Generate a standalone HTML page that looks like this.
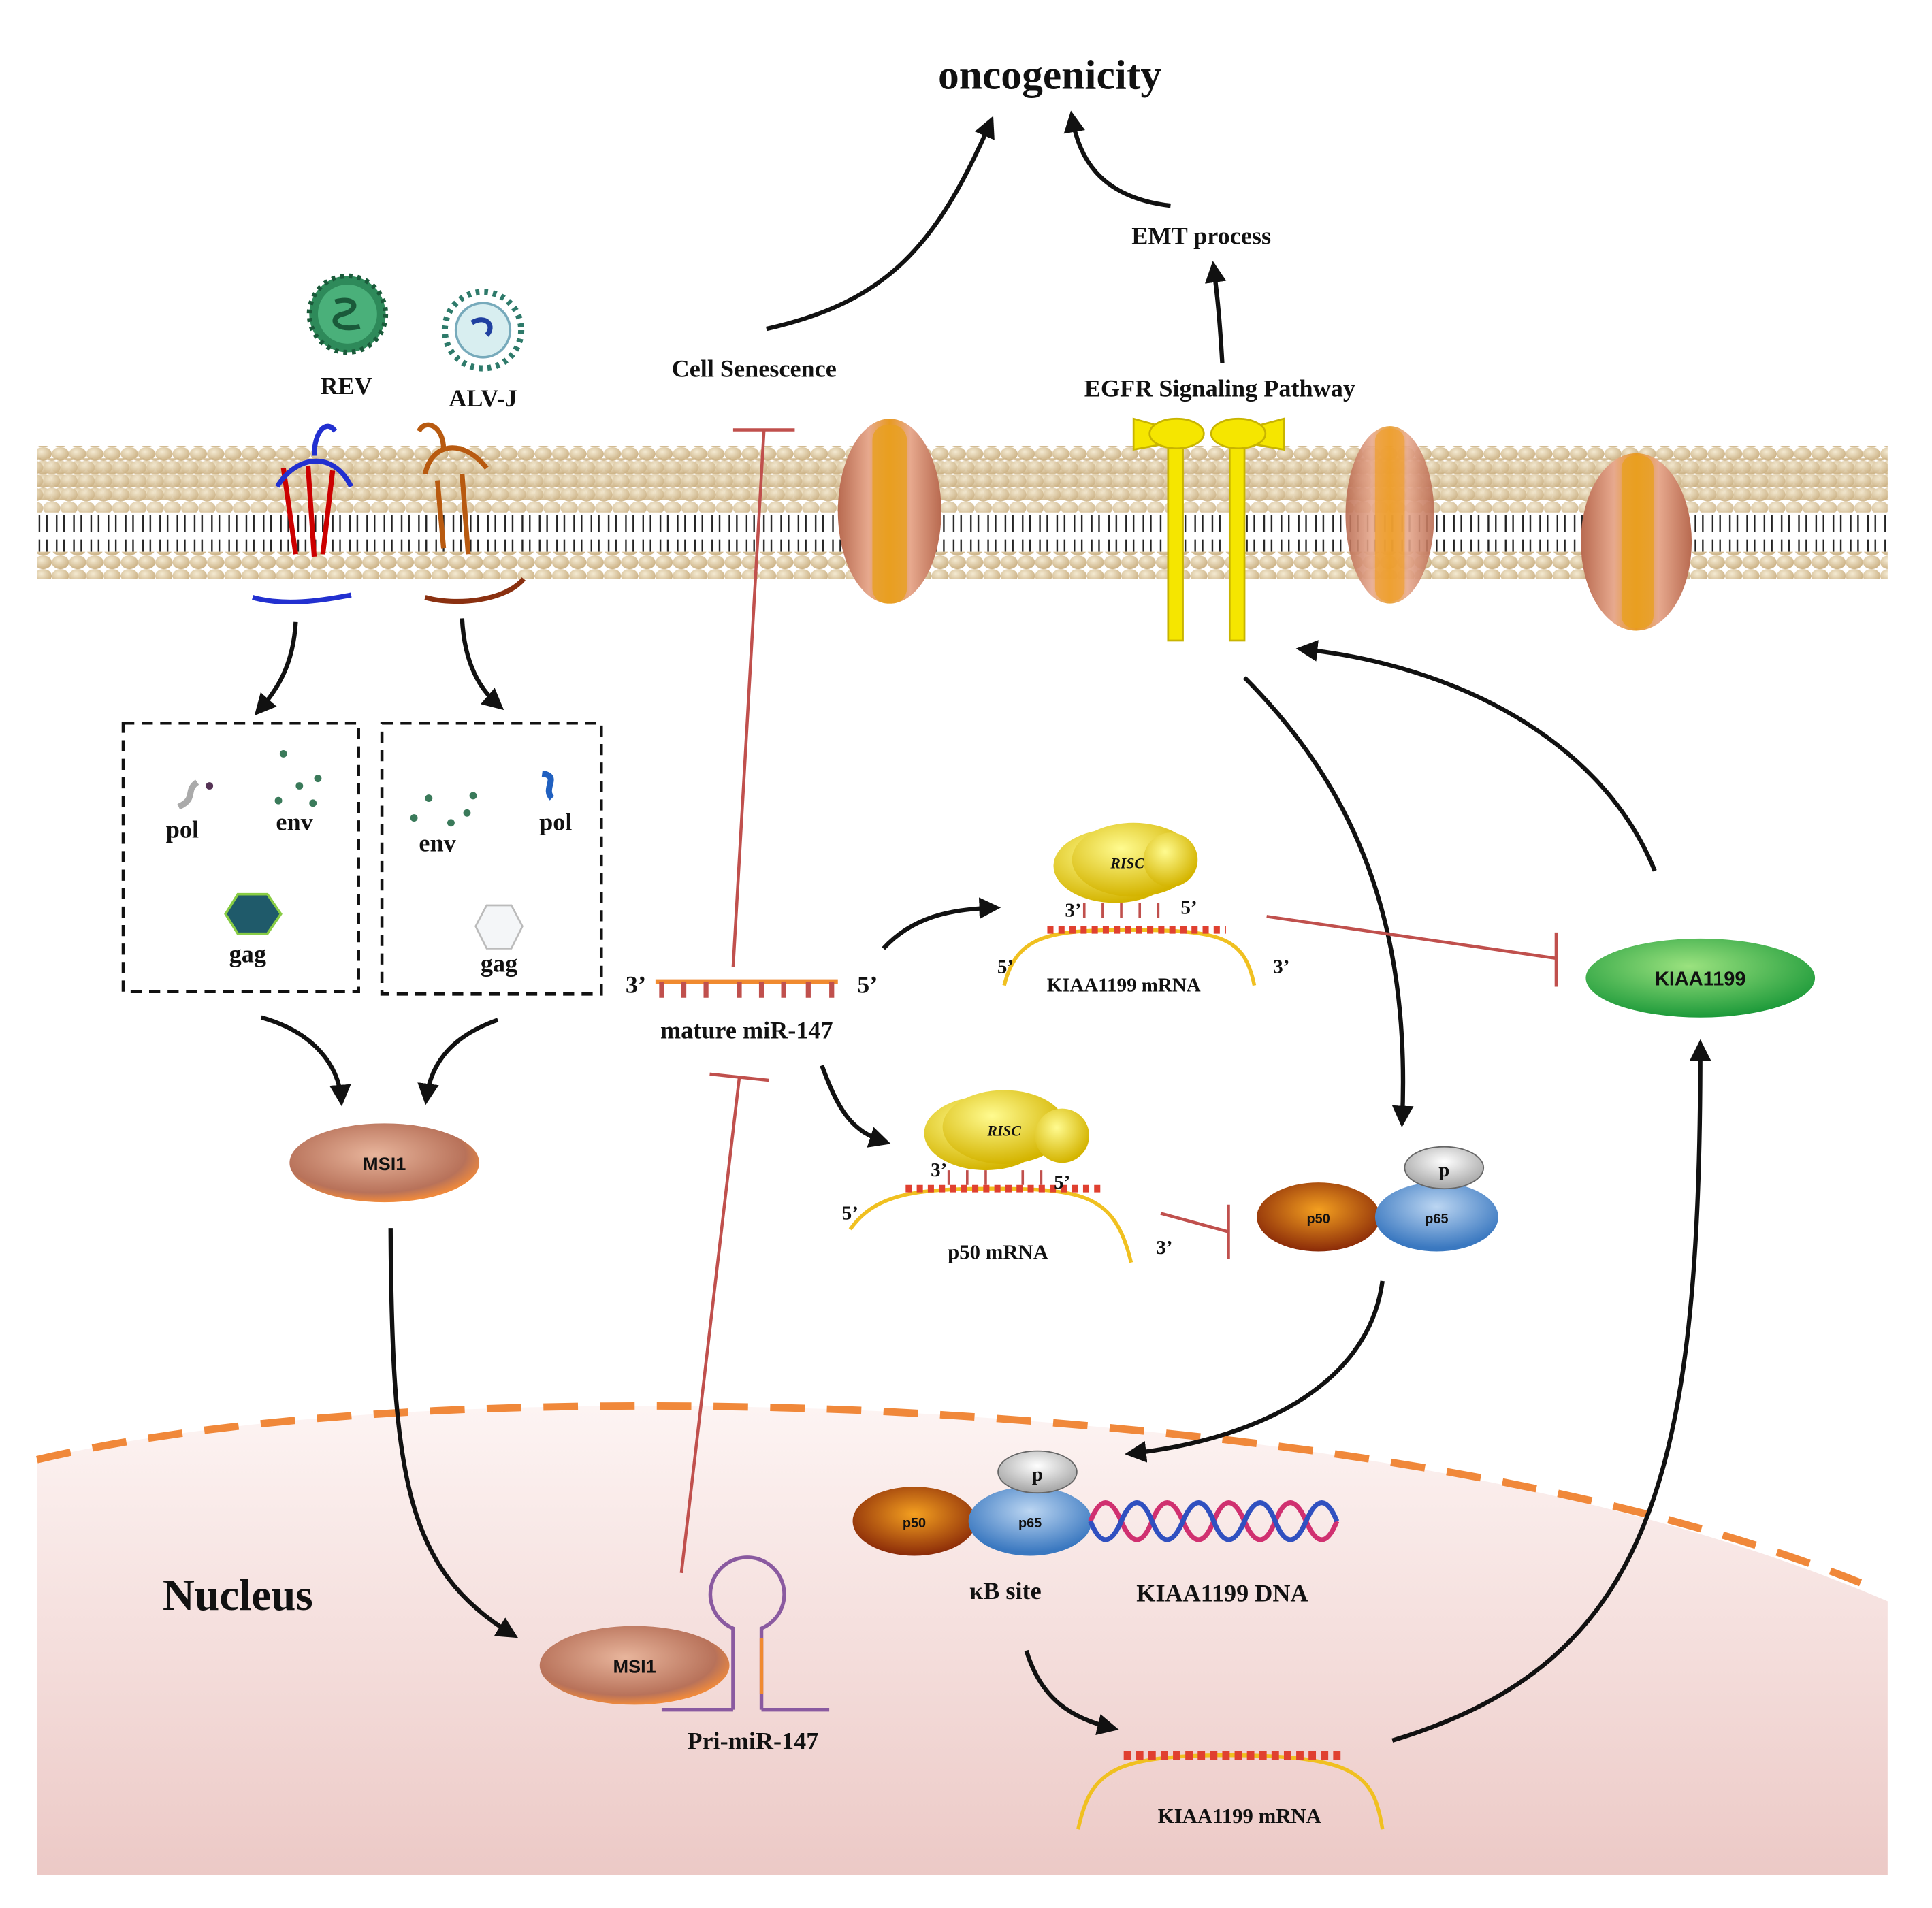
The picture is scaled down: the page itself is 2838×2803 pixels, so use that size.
<!DOCTYPE html>
<html><head><meta charset="utf-8"><style>
html,body{margin:0;padding:0;background:#fff;}
svg{display:block;}
text{font-family:"Liberation Serif",serif;font-weight:bold;fill:#111;}
.s{font-family:"Liberation Sans",sans-serif;}
</style></head><body>
<svg width="2838" height="2803" viewBox="0 0 1568 1549" preserveAspectRatio="none" xmlns="http://www.w3.org/2000/svg">
<defs>
<marker id="ah" viewBox="0 0 10 10" refX="7" refY="5" markerWidth="5" markerHeight="5" orient="auto"><path d="M0,0 L10,5 L0,10 z" fill="#111"/></marker>
<linearGradient id="nuc" x1="0" y1="0" x2="0" y2="1"><stop offset="0" stop-color="#fdf4f3"/><stop offset="1" stop-color="#ecc9c6"/></linearGradient>
<radialGradient id="head" cx="0.4" cy="0.35" r="0.7"><stop offset="0" stop-color="#f4ead2"/><stop offset="1" stop-color="#c9ae80"/></radialGradient>
<pattern id="heads" width="14" height="11" patternUnits="userSpaceOnUse"><ellipse cx="7" cy="5.5" rx="7" ry="5.5" fill="url(#head)"/></pattern>
<pattern id="heads2" width="14" height="11" patternUnits="userSpaceOnUse" x="7"><ellipse cx="7" cy="5.5" rx="7" ry="5.5" fill="url(#head)"/></pattern>
<pattern id="tails" width="14" height="30" patternUnits="userSpaceOnUse"><path d="M4,0 V12 M10,0 V12 M4,18 V30 M10,18 V30" stroke="#222" stroke-width="1.3"/></pattern>
<radialGradient id="msi" cx="0.45" cy="0.4" r="0.6"><stop offset="0" stop-color="#e8b59c"/><stop offset="0.8" stop-color="#b8725a"/><stop offset="1" stop-color="#f08a3c"/></radialGradient>
<radialGradient id="grn" cx="0.45" cy="0.35" r="0.65"><stop offset="0" stop-color="#9be27f"/><stop offset="1" stop-color="#1d9a3a"/></radialGradient>
<radialGradient id="p50" cx="0.5" cy="0.4" r="0.6"><stop offset="0" stop-color="#f4a020"/><stop offset="1" stop-color="#8a2a08"/></radialGradient>
<radialGradient id="p65" cx="0.5" cy="0.35" r="0.6"><stop offset="0" stop-color="#bcd6f2"/><stop offset="1" stop-color="#3a78c0"/></radialGradient>
<radialGradient id="pp" cx="0.5" cy="0.35" r="0.6"><stop offset="0" stop-color="#fff"/><stop offset="1" stop-color="#aaa"/></radialGradient>
<radialGradient id="ylw" cx="0.4" cy="0.35" r="0.65"><stop offset="0" stop-color="#fffb90"/><stop offset="1" stop-color="#d4b400"/></radialGradient>
<linearGradient id="ch" x1="0" x2="1"><stop offset="0" stop-color="#b86a50"/><stop offset="0.3" stop-color="#e7a98e"/><stop offset="0.5" stop-color="#e89a20"/><stop offset="0.7" stop-color="#e7a98e"/><stop offset="1" stop-color="#b86a50"/></linearGradient>
</defs>

<path d="M30,1185 C200,1145 450,1135 700,1145 C1000,1160 1300,1200 1532,1300 L1532,1522 L30,1522 Z" fill="url(#nuc)"/>
<path d="M30,1185 C200,1145 450,1135 700,1145 C1000,1160 1300,1200 1510,1285" fill="none" stroke="#f0883a" stroke-width="6" stroke-dasharray="28,18"/>

<rect x="30" y="362" width="1502" height="44" fill="url(#heads)"/>
<rect x="30" y="372" width="1502" height="44" fill="url(#heads2)" opacity="0.9"/>
<rect x="30" y="418" width="1502" height="30" fill="url(#tails)"/>
<rect x="30" y="448" width="1502" height="22" fill="url(#heads)"/>

<g><ellipse cx="722" cy="415" rx="42" ry="75" fill="url(#ch)"/><rect x="708" y="345" width="28" height="145" rx="12" fill="#e8a020" opacity="0.8"/></g>
<g><ellipse cx="1128" cy="418" rx="36" ry="72" fill="url(#ch)" opacity="0.9"/><rect x="1116" y="348" width="24" height="140" rx="10" fill="#f0a030" opacity="0.7"/></g>
<g><ellipse cx="1328" cy="440" rx="45" ry="72" fill="url(#ch)"/><rect x="1316" y="370" width="26" height="140" rx="10" fill="#e8a020" opacity="0.8"/></g>

<g fill="#f5e600" stroke="#c8b400" stroke-width="1.5">
<rect x="948" y="360" width="12" height="160"/><rect x="998" y="360" width="12" height="160"/>
<path d="M920,340 L975,355 L920,365 Z"/><path d="M1042,340 L985,355 L1042,365 Z"/>
<ellipse cx="955" cy="352" rx="22" ry="12"/><ellipse cx="1005" cy="352" rx="22" ry="12"/>
</g>

<g fill="none" stroke-width="4">
<path d="M230,380 L240,450 M250,378 L255,452 M270,382 L262,450" stroke="#c00"/>
<path d="M225,395 C240,370 270,365 285,395 M255,370 C255,350 265,340 272,350" stroke="#2230d0"/>
<path d="M205,485 C230,492 260,488 285,483" stroke="#2230d0"/>
<path d="M345,385 C350,360 375,355 395,380 M355,390 L360,445 M375,385 L380,450 M340,350 C345,340 360,345 360,365" stroke="#b85a10"/>
<path d="M345,485 C370,492 410,488 425,470" stroke="#8a3010"/>
</g>

<circle cx="282" cy="255" r="31" fill="#2e8a5a" stroke="#1a5a3a" stroke-width="4" stroke-dasharray="3,4"/>
<circle cx="282" cy="255" r="24" fill="#4ab07a"/>
<path d="M272,245 C290,240 292,252 278,255 C266,258 272,270 292,265" stroke="#1a5a3a" stroke-width="4" fill="none"/>
<circle cx="392" cy="268" r="31" fill="#fff" stroke="#2e7a6a" stroke-width="5" stroke-dasharray="3,4"/>
<circle cx="392" cy="268" r="22" fill="#d8eef0" stroke="#7ab" stroke-width="2"/>
<path d="M383,262 C395,255 402,265 395,272" stroke="#2040a0" stroke-width="4" fill="none"/>
<text x="281" y="320" font-size="20" text-anchor="middle">REV</text>
<text x="392" y="330" font-size="20" text-anchor="middle">ALV-J</text>

<g fill="none" stroke="#111" stroke-width="3.5" marker-end="url(#ah)">
<path d="M240,505 C238,540 225,560 210,577"/>
<path d="M375,502 C377,540 390,560 405,573"/>
<path d="M212,826 C255,838 275,865 277,893"/>
<path d="M404,828 C370,840 350,860 346,892"/>
<path d="M317,997 C318,1200 330,1275 416,1327"/>
<path d="M622,267 C720,245 760,200 804,99"/>
<path d="M950,167 C890,160 875,125 870,95"/>
<path d="M992,295 C990,260 988,240 985,217"/>
<path d="M717,770 C740,745 770,738 807,737"/>
<path d="M667,865 C680,900 690,918 718,927"/>
<path d="M1343,707 C1300,600 1180,540 1057,527"/>
<path d="M1010,550 C1100,640 1145,750 1138,910"/>
<path d="M1122,1040 C1110,1130 1010,1170 918,1180"/>
<path d="M833,1340 C845,1380 870,1395 903,1403"/>
<path d="M1130,1413 C1340,1350 1380,1200 1380,849"/>
</g>

<rect x="100" y="587" width="191" height="218" fill="none" stroke="#111" stroke-width="2.5" stroke-dasharray="9,6"/>
<rect x="310" y="587" width="178" height="220" fill="none" stroke="#111" stroke-width="2.5" stroke-dasharray="9,6"/>
<path d="M145,655 C160,648 150,642 160,635" stroke="#aaa" stroke-width="5" fill="none"/><circle cx="170" cy="638" r="3" fill="#535"/>
<g fill="#3a7a5a"><circle cx="230" cy="612" r="3"/><circle cx="243" cy="638" r="3"/><circle cx="226" cy="650" r="3"/><circle cx="258" cy="632" r="3"/><circle cx="254" cy="652" r="3"/><circle cx="348" cy="648" r="3"/><circle cx="336" cy="664" r="3"/><circle cx="366" cy="668" r="3"/><circle cx="384" cy="646" r="3"/><circle cx="379" cy="660" r="3"/></g>
<path d="M440,628 C455,630 440,640 448,648" stroke="#2060c0" stroke-width="5" fill="none"/>
<polygon points="193,726 217,726 228,742 217,758 193,758 183,742" fill="#1f5a6a" stroke="#8c4" stroke-width="2"/>
<polygon points="395,735 415,735 424,752 415,770 395,770 386,752" fill="#f4f6f8" stroke="#bbb" stroke-width="1.5"/>
<g font-size="20" text-anchor="middle"><text x="148" y="680">pol</text><text x="239" y="674">env</text><text x="201" y="781">gag</text><text x="355" y="691">env</text><text x="451" y="674">pol</text><text x="405" y="789">gag</text></g>

<ellipse cx="312" cy="944" rx="77" ry="32" fill="url(#msi)"/>
<text class="s" x="312" y="950" font-size="15" text-anchor="middle">MSI1</text>
<ellipse cx="515" cy="1352" rx="77" ry="32" fill="url(#msi)"/>
<text class="s" x="515" y="1358" font-size="15" text-anchor="middle">MSI1</text>
<text x="193" y="1307" font-size="36" text-anchor="middle">Nucleus</text>

<g fill="none" stroke="#8a5aa0" stroke-width="3">
<path d="M595,1388 L595,1322 A30,30 0 1 1 618,1322 L618,1388"/>
<path d="M537,1388 L595,1388 M618,1388 L673,1388"/>
</g>
<path d="M618,1330 V1375" stroke="#f08a30" stroke-width="3"/>
<text x="611" y="1420" font-size="20" text-anchor="middle">Pri-miR-147</text>

<g stroke="#c0504d" stroke-width="2.5" fill="none">
<path d="M595,785 L620,350 M595,349 L645,349"/>
<path d="M553,1277 L600,875 M576,872 L624,877"/>
<path d="M1028,744 L1263,778 M1263,757 L1263,801"/>
<path d="M942,985 L997,1000 M997,978 L997,1022"/>
</g>

<path d="M532,797 L680,797" stroke="#f08a30" stroke-width="4"/>
<g stroke="#c0504d" stroke-width="4"><path d="M537,797V810M555,797V810M573,797V810M600,797V810M618,797V810M636,797V810M656,797V810M675,797V810"/></g>
<text x="516" y="806" font-size="20" text-anchor="middle">3’</text>
<text x="704" y="806" font-size="20" text-anchor="middle">5’</text>
<text x="606" y="843" font-size="20" text-anchor="middle">mature miR-147</text>

<ellipse cx="905" cy="703" rx="50" ry="30" fill="url(#ylw)"/>
<ellipse cx="920" cy="698" rx="50" ry="30" fill="url(#ylw)"/>
<circle cx="950" cy="698" r="22" fill="url(#ylw)"/>
<text x="915" y="705" font-size="12" text-anchor="middle" font-style="italic">RISC</text>
<g stroke="#c0504d" stroke-width="2"><path d="M880,733V745M895,733V745M910,733V745M925,733V745M940,733V745"/></g>
<path d="M815,800 C825,760 850,755 915,755 C990,755 1010,760 1018,800" fill="none" stroke="#f0c020" stroke-width="3"/>
<path d="M850,755 H995" stroke="#e04030" stroke-width="6" stroke-dasharray="5,4"/>
<text x="871" y="744" font-size="16" text-anchor="middle">3’</text><text x="965" y="742" font-size="16" text-anchor="middle">5’</text>
<text x="816" y="790" font-size="16" text-anchor="middle">5’</text><text x="1040" y="790" font-size="16" text-anchor="middle">3’</text>
<text x="912" y="805" font-size="16" text-anchor="middle">KIAA1199 mRNA</text>

<ellipse cx="1380" cy="794" rx="93" ry="32" fill="url(#grn)"/>
<text class="s" x="1380" y="800" font-size="16" text-anchor="middle">KIAA1199</text>

<ellipse cx="800" cy="920" rx="50" ry="30" fill="url(#ylw)"/>
<ellipse cx="815" cy="915" rx="50" ry="30" fill="url(#ylw)"/>
<circle cx="862" cy="922" r="22" fill="url(#ylw)"/>
<text x="815" y="922" font-size="12" text-anchor="middle" font-style="italic">RISC</text>
<g stroke="#c0504d" stroke-width="2"><path d="M770,950V962M785,950V962M800,950V962M830,950V962M845,950V962"/></g>
<path d="M690,998 C710,970 740,965 805,965 C880,965 905,970 918,1025" fill="none" stroke="#f0c020" stroke-width="3"/>
<path d="M735,965 H895" stroke="#e04030" stroke-width="6" stroke-dasharray="5,4"/>
<text x="762" y="955" font-size="16" text-anchor="middle">3’</text><text x="862" y="965" font-size="16" text-anchor="middle">5’</text>
<text x="690" y="990" font-size="16" text-anchor="middle">5’</text><text x="945" y="1018" font-size="16" text-anchor="middle">3’</text>
<text x="810" y="1022" font-size="17" text-anchor="middle">p50 mRNA</text>

<ellipse cx="1070" cy="988" rx="50" ry="28" fill="url(#p50)"/>
<ellipse cx="1166" cy="988" rx="50" ry="28" fill="url(#p65)"/>
<ellipse cx="1172" cy="948" rx="32" ry="17" fill="url(#pp)" stroke="#666"/>
<text class="s" x="1070" y="993" font-size="11" text-anchor="middle">p50</text>
<text class="s" x="1166" y="993" font-size="11" text-anchor="middle">p65</text>
<text x="1172" y="955" font-size="16" text-anchor="middle">p</text>

<ellipse cx="742" cy="1235" rx="50" ry="28" fill="url(#p50)"/>
<ellipse cx="836" cy="1235" rx="50" ry="28" fill="url(#p65)"/>
<ellipse cx="842" cy="1195" rx="32" ry="17" fill="url(#pp)" stroke="#666"/>
<text class="s" x="742" y="1240" font-size="11" text-anchor="middle">p50</text>
<text class="s" x="836" y="1240" font-size="11" text-anchor="middle">p65</text>
<text x="842" y="1202" font-size="16" text-anchor="middle">p</text>
<g fill="none" stroke-width="4">
<path d="M885,1235 Q897,1205 910,1235 T935,1235 T960,1235 T985,1235 T1010,1235 T1035,1235 T1060,1235 T1085,1235" stroke="#d03070"/>
<path d="M885,1235 Q897,1265 910,1235 T935,1235 T960,1235 T985,1235 T1010,1235 T1035,1235 T1060,1235 T1085,1235" stroke="#3050c0"/>
</g>
<text x="816" y="1298" font-size="20" text-anchor="middle">κB site</text>
<text x="992" y="1300" font-size="20" text-anchor="middle">KIAA1199 DNA</text>

<path d="M875,1485 C885,1440 900,1425 995,1425 C1100,1425 1115,1440 1122,1485" fill="none" stroke="#f0c020" stroke-width="3"/>
<path d="M912,1425 H1092" stroke="#e04030" stroke-width="7" stroke-dasharray="6,4"/>
<text x="1006" y="1480" font-size="17" text-anchor="middle">KIAA1199 mRNA</text>

<text x="852" y="72" font-size="34" text-anchor="middle">oncogenicity</text>
<text x="975" y="198" font-size="20" text-anchor="middle">EMT process</text>
<text x="990" y="322" font-size="20" text-anchor="middle">EGFR Signaling Pathway</text>
<text x="612" y="306" font-size="20" text-anchor="middle">Cell Senescence</text>
</svg>
</body></html>
